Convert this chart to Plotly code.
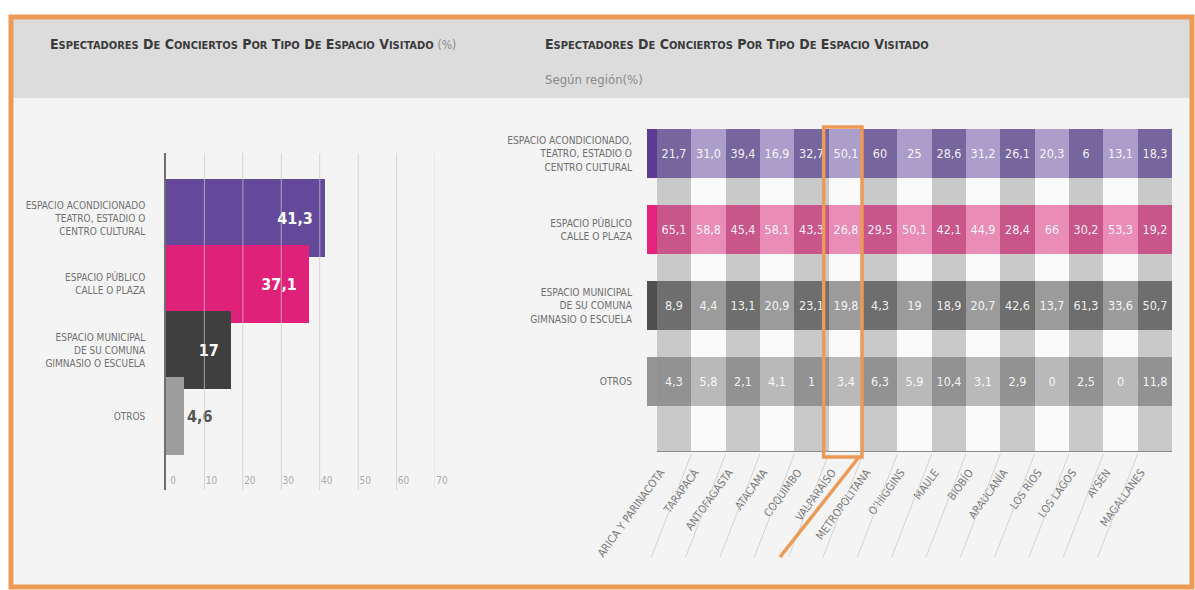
import plotly.graph_objects as go

# ---------------- data ----------------
tipos_izq = ["ESPACIO ACONDICIONADO<br>TEATRO, ESTADIO O<br>CENTRO CULTURAL",
             "ESPACIO PÚBLICO<br>CALLE O PLAZA",
             "ESPACIO MUNICIPAL<br>DE SU COMUNA<br>GIMNASIO O ESCUELA",
             "OTROS"]
total_valores = [41.3, 37.1, 17, 4.6]
total_textos = ["41,3", "37,1", "17", "4,6"]
eje_ticks = [0, 10, 20, 30, 40, 50, 60, 70]

tipos_der = ["ESPACIO ACONDICIONADO,<br>TEATRO, ESTADIO O<br>CENTRO CULTURAL",
             "ESPACIO PÚBLICO<br>CALLE O PLAZA",
             "ESPACIO MUNICIPAL<br>DE SU COMUNA<br>GIMNASIO O ESCUELA",
             "OTROS"]
regiones = ["ARICA Y PARINACOTA", "TARAPACÁ", "ANTOFAGASTA", "ATACAMA", "COQUIMBO",
            "VALPARAÍSO", "METROPOLITANA", "O’HIGGINS", "MAULE", "BIOBÍO",
            "ARAUCANÍA", "LOS RÍOS", "LOS LAGOS", "AYSÉN", "MAGALLANES"]
acondicionado = [21.7, 31.0, 39.4, 16.9, 32.7, 50.1, 60, 25, 28.6, 31.2, 26.1, 20.3, 6, 13.1, 18.3]
publico = [65.1, 58.8, 45.4, 58.1, 43.3, 26.8, 29.5, 50.1, 42.1, 44.9, 28.4, 66, 30.2, 53.3, 19.2]
municipal = [8.9, 4.4, 13.1, 20.9, 23.1, 19.8, 4.3, 19, 18.9, 20.7, 42.6, 13.7, 61.3, 33.6, 50.7]
otros = [4.3, 5.8, 2.1, 4.1, 1, 3.4, 6.3, 5.9, 10.4, 3.1, 2.9, 0, 2.5, 0, 11.8]
filas = [acondicionado, publico, municipal, otros]
region_destacada = "VALPARAÍSO"

# ---------------- style ----------------
W, H = 1195, 590
FONT = "DejaVu Sans Condensed, Liberation Sans Narrow, Arial Narrow, sans-serif"
col_izq = ["#64489A", "#E0217A", "#3F3F3F", "#9D9D9D"]
col_osc = ["#76669E", "#C9568B", "#6E6E6E", "#929292"]
col_cla = ["#AB9ECB", "#E98DB6", "#9B9B9B", "#B9B9B9"]
col_tira = ["#5B3C92", "#E3247A", "#505050", "#959595"]
ORANGE = "#EC9A55"


def px(x):
    return x / W


def py(y):
    return 1 - y / H


def fmt(v):
    if isinstance(v, int):
        return str(v)
    return f"{v:.1f}".replace(".", ",")


def smallcaps(text, big=14, small=11):
    out = []
    for w in text.split(" "):
        out.append(w[0] + f"<span style='font-size:{small}px'>{w[1:]}</span>" if len(w) > 1 else w)
    return " ".join(out)


fig = go.Figure()

# ---------- left chart ----------
ypos = list(range(len(total_valores)))
fig.add_trace(go.Bar(
    x=total_valores, y=ypos, orientation="h", width=1.17,
    marker=dict(color=col_izq, line=dict(width=0)),
    text=[f"<b>{t}</b>" + ("\u00a0\u00a0" if i < 3 else "") for i, t in enumerate(total_textos)],
    textposition=["inside", "inside", "inside", "outside"],
    insidetextanchor="end", textangle=0, constraintext="none",
    textfont=dict(family=FONT, size=16, color=["white", "white", "white", "#555555"]),
    cliponaxis=False, hoverinfo="skip", xaxis="x", yaxis="y"))

# ---------- right chart ----------
n = len(regiones)
cols = list(range(n))
PITCH_H = 0.65
TOP = len(filas) + 0.25
fig.add_trace(go.Bar(
    x=cols, y=[TOP] * n, base=0, width=1,
    marker=dict(color=["#C9C9C9" if i % 2 == 0 else "#FAFAFA" for i in cols], line=dict(width=0)),
    hoverinfo="skip", xaxis="x2", yaxis="y2"))
for k, fila in enumerate(filas):
    fig.add_trace(go.Bar(
        x=cols, y=[PITCH_H] * n, base=[k] * n, width=1,
        marker=dict(color=[col_osc[k] if i % 2 == 0 else col_cla[k] for i in cols], line=dict(width=0)),
        text=[fmt(v) for v in fila], textposition="inside", insidetextanchor="middle",
        textangle=0,
        textfont=dict(family=FONT, size=12.5, color="rgba(255,255,255,0.92)"),
        hoverinfo="skip", xaxis="x2", yaxis="y2"))
fig.add_trace(go.Bar(
    x=[-0.645] * len(filas), y=[PITCH_H] * len(filas), base=list(range(len(filas))), width=0.29,
    marker=dict(color=col_tira, line=dict(width=0)), hoverinfo="skip", xaxis="x2", yaxis="y2"))

# ---------- layout ----------
shapes = []
shapes.append(dict(type="rect", xref="paper", yref="paper", x0=px(12), x1=px(1192), y0=py(587), y1=py(17),
                   fillcolor="#F4F4F4", line=dict(width=0), layer="below"))
shapes.append(dict(type="rect", xref="paper", yref="paper", x0=px(12), x1=px(1192), y0=py(98), y1=py(17),
                   fillcolor="#DCDCDC", line=dict(width=0), layer="below"))
shapes.append(dict(type="rect", xref="paper", yref="paper", x0=px(11), x1=px(1192), y0=py(587), y1=py(17),
                   fillcolor="rgba(0,0,0,0)", line=dict(color=ORANGE, width=5), layer="above"))
for t in eje_ticks[1:]:
    shapes.append(dict(type="line", xref="x", yref="y domain", x0=t, x1=t, y0=0, y1=1,
                       line=dict(color="rgba(212,212,212,0.55)", width=1.2), layer="above"))
shapes.append(dict(type="line", xref="x2", yref="y2", x0=-0.5, x1=n - 0.5, y0=TOP, y1=TOP,
                   line=dict(color="#8A8A8A", width=2), layer="above"))
X0R, UNIT = 657, (1172 - 657) / n
for j in range(1, n):
    xb = X0R + j * UNIT
    shapes.append(dict(type="line", xref="paper", yref="paper", x0=px(xb), y0=py(454), x1=px(xb - 40), y1=py(557),
                       line=dict(color="#D2D2D2", width=1), layer="above"))
hi = regiones.index(region_destacada)
hx0 = X0R + hi * UNIT - 5
hx1 = X0R + (hi + 1) * UNIT - 1
shapes.append(dict(type="rect", xref="paper", yref="paper", x0=px(hx0), x1=px(hx1), y0=py(457), y1=py(127),
                   line=dict(color=ORANGE, width=3.5), fillcolor="rgba(0,0,0,0)", layer="above"))
shapes.append(dict(type="line", xref="paper", yref="paper", x0=px(hx1 - 3), y0=py(457), x1=px(780), y1=py(557),
                   line=dict(color=ORANGE, width=3.5), layer="above"))

annotations = [
    dict(xref="paper", yref="paper", x=px(48), y=py(44), xanchor="left", yanchor="middle", showarrow=False,
         text="<b>" + smallcaps("ESPECTADORES DE CONCIERTOS POR TIPO DE ESPACIO VISITADO") + "</b>"
              + " <span style='color:#8a8a8a;font-size:12px'>(%)</span>",
         font=dict(family=FONT, size=14, color="#3A3A3A")),
    dict(xref="paper", yref="paper", x=px(543), y=py(44), xanchor="left", yanchor="middle", showarrow=False,
         text="<b>" + smallcaps("ESPECTADORES DE CONCIERTOS POR TIPO DE ESPACIO VISITADO") + "</b>",
         font=dict(family=FONT, size=14, color="#3A3A3A")),
    dict(xref="paper", yref="paper", x=px(543), y=py(80), xanchor="left", yanchor="middle", showarrow=False,
         text="Según región(%)", font=dict(family=FONT, size=13, color="#8A8A8A")),
]

fig.update_layout(
    width=W, height=H, margin=dict(l=0, r=0, t=0, b=0, pad=0), autosize=False,
    paper_bgcolor="white", plot_bgcolor="rgba(0,0,0,0)",
    showlegend=False, barmode="overlay", bargap=0,
    font=dict(family=FONT, color="#6A6A6A"),
    shapes=shapes, annotations=annotations,
    xaxis=dict(domain=[px(166), px(435)], range=[0, 70], tickvals=eje_ticks, showgrid=True,
               gridcolor="#E2E2E2", gridwidth=1, zeroline=False, showline=False, automargin=False,
               ticklabelposition="outside", ticklabelstandoff=-17, ticklabelshift=7,
               tickfont=dict(size=10, color="#ABABAB"), ticks=""),
    yaxis=dict(domain=[py(490), py(153)], range=[4.12, -0.985], tickvals=ypos, ticktext=tipos_izq,
               showgrid=False, zeroline=False, showline=True, linecolor="#6F6F6F", linewidth=1.5,
               automargin=False, ticks="", ticklabelstandoff=17, tickfont=dict(size=10, color="#707070")),
    xaxis2=dict(domain=[px(647), px(1172)], range=[-0.791, n - 0.5], anchor="y2",
                tickvals=[c - 0.4 for c in cols], ticktext=regiones, tickangle=-54, automargin=False,
                showgrid=False, zeroline=False, showline=False, ticks="", ticklabelstandoff=11,
                tickfont=dict(size=11, color="#7A7A7A")),
    yaxis2=dict(domain=[py(452), py(129)], range=[TOP, 0], anchor="x2", automargin=False,
                tickvals=[k + PITCH_H / 2 for k in range(len(filas))], ticktext=tipos_der,
                showgrid=False, zeroline=False, showline=False, ticks="", ticklabelstandoff=14,
                tickfont=dict(size=10.2, color="#707070")),
)

fig.write_html("out.html", config={"displayModeBar": False},
               post_script="document.body.style.margin='0';")
